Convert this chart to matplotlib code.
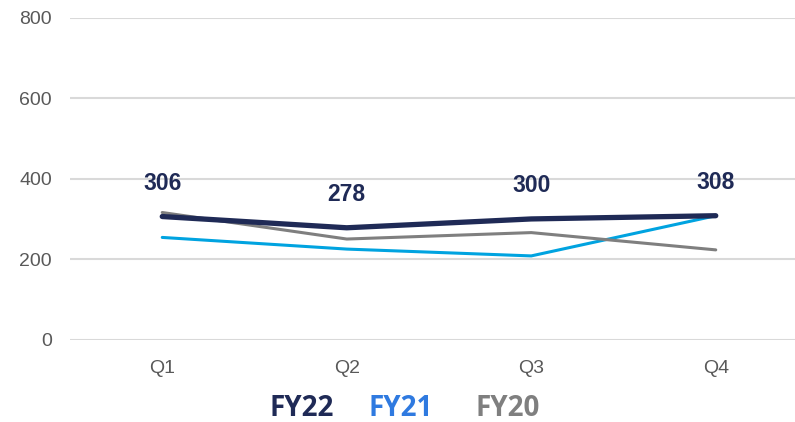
import matplotlib.pyplot as plt
from matplotlib import font_manager

quarters = ["Q1", "Q2", "Q3", "Q4"]
fy22 = [306, 278, 300, 308]
fy21 = [254, 225, 208, 308]
fy20 = [316, 250, 266, 223]
y_ticks = [0, 200, 400, 600, 800]

navy = "#1F2A56"
blue = "#00A3E0"
legend_blue = "#2F7AE0"
gray = "#7F7F7F"

names = {f.name for f in font_manager.fontManager.ttflist}
narrow = "Liberation Sans Narrow" if "Liberation Sans Narrow" in names else "Liberation Sans"

fig = plt.figure(figsize=(7.95, 4.22), dpi=100)
ax = fig.add_axes([70 / 795, 1 - 339.5 / 422, 738 / 795, 321.5 / 422])

x = range(len(quarters))
ax.plot(x, fy21, color=blue, lw=2.2, solid_capstyle="round", zorder=3)
ax.plot(x, fy20, color=gray, lw=2.2, solid_capstyle="round", zorder=4)
ax.plot(x, fy22, color=navy, lw=3.8, solid_capstyle="round", zorder=5)

for xi, v in zip(x, fy22):
    ax.annotate(str(v), (xi, v), xytext=(0, 24), textcoords="offset points",
                ha="center", va="center", fontsize=16.5, fontweight="bold",
                color=navy, family=narrow)

ax.set_xlim(-0.5, 3.5)
ax.set_ylim(0, 800)
ax.set_yticks(y_ticks)
ax.set_xticks(list(x))
ax.set_xticklabels(quarters)
ax.grid(axis="y", color="#D9D9D9", lw=1.5)
ax.set_axisbelow(True)
for s in ax.spines.values():
    s.set_visible(False)
ax.tick_params(length=0, colors="#595959", labelsize=14)
ax.tick_params(axis="y", pad=13)
ax.tick_params(axis="x", pad=15)
for lab in ax.get_xticklabels() + ax.get_yticklabels():
    lab.set_family(narrow)

# legend drawn as coloured text
for lx, txt, col in [(302, "FY22", navy), (401, "FY21", legend_blue), (508, "FY20", gray)]:
    fig.text(lx / 795, 1 - 408 / 422, txt, ha="center", va="center",
             fontsize=20, fontweight="bold", color=col, family="Open Sans")

fig.savefig("out.png", dpi=100)
